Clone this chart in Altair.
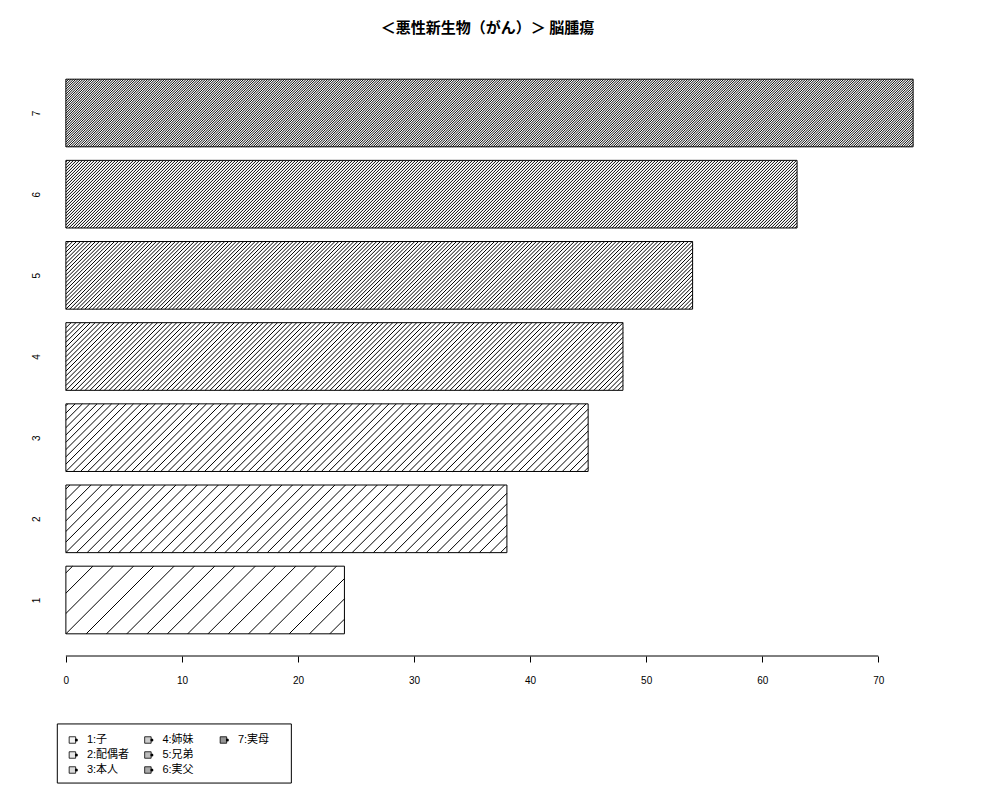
import json
import altair as alt
import numpy as np
import pandas as pd

# ---------------- data ----------------
categories = ["1", "2", "3", "4", "5", "6", "7"]
values = [24, 38, 45, 48, 54, 63, 73]
legend_labels = ["1:子", "2:配偶者", "3:本人", "4:姉妹", "5:兄弟", "6:実父", "7:実母"]
x_ticks = [0, 10, 20, 30, 40, 50, 60, 70]
title_text = "＜悪性新生物（がん）＞ 脳腫瘍"

# ---------------- styles ----------------
hatch_px = [20.3, 10.6, 7.3, 4.8, 3.8, 3.0, 2.4]      # horizontal hatch spacing (px)
legend_grays = ["#f4f4f4", "#e8e8e8", "#dcdcdc", "#cccccc", "#bcbcbc", "#aaaaaa", "#959595"]
W, H = 915, 599
bar_w, bar_space = 1.0, 0.2
ext = 0.04

n = len(values)
bottoms = [bar_space + i * (bar_w + bar_space) for i in range(n)]
tops = [b + bar_w for b in bottoms]
centers = [b + bar_w / 2 for b in bottoms]

xmin_d = -ext * max(values)
xmax_d = max(values) * (1 + ext)
yr = tops[-1] - bottoms[0]
ymin_d = bottoms[0] - ext * yr
ymax_d = tops[-1] + ext * yr
kx = W / (xmax_d - xmin_d)
ky = H / (ymax_d - ymin_d)

bar_df = pd.DataFrame({"cat": categories, "x": [0] * n, "x2": values,
                       "y": bottoms, "y2": tops})

# hatch segments (45 degrees in screen space), clipped to each bar
rows = []
for i in range(n):
    w = values[i] * kx
    h = bar_w * ky
    s = hatch_px[i]
    for k in range(int(np.ceil(-h / s)), int(np.floor(w / s)) + 1):
        c = k * s
        xa, va = (c, 0.0) if c >= 0 else (0.0, -c)
        xb, vb = (c + h, h) if c + h <= w else (w, w - c)
        if xb - xa < 0.3:
            continue
        rows.append({"x": xa / kx, "x2": xb / kx,
                     "y": bottoms[i] + va / ky, "y2": bottoms[i] + vb / ky})
hatch_df = pd.DataFrame(rows)

axis_df = pd.DataFrame({"x": [min(x_ticks)], "x2": [max(x_ticks)], "y": [ymin_d]})

x_scale = alt.Scale(domain=[xmin_d, xmax_d], nice=False, zero=False)
y_scale = alt.Scale(domain=[ymin_d, ymax_d], nice=False, zero=False)

x_axis = alt.Axis(values=x_ticks, domain=False, ticks=True, tickSize=6, tickColor="black",
                  tickWidth=1, labelFont="Liberation Sans", labelFontSize=10,
                  labelColor="black", labelPadding=13, grid=False, title=None,
                  labelFlush=False, labelOverlap=False, format="d")
label_expr = (f"{json.dumps(categories)}[round((datum.value - {centers[0]}) / "
              f"{bar_w + bar_space})]")
y_axis = alt.Axis(values=centers, labelExpr=label_expr, domain=False, ticks=False,
                  tickSize=0, labelAngle=270, labelAlign="center",
                  labelBaseline="alphabetic", labelPadding=0, offset=-7, grid=False,
                  title=None, labelFontSize=10, labelFont="Liberation Sans",
                  labelColor="black", labelOverlap=False)

X = alt.X("x:Q", scale=x_scale, axis=x_axis)
Y = alt.Y("y:Q", scale=y_scale, axis=y_axis)

hatch = alt.Chart(hatch_df).mark_rule(color="black", strokeWidth=1).encode(
    x=X, x2="x2:Q", y=Y, y2="y2:Q")
bars = alt.Chart(bar_df).mark_rect(fill="white", fillOpacity=0, stroke="black",
                                   strokeWidth=1).encode(x=X, x2="x2:Q", y=Y, y2="y2:Q")
axis_line = alt.Chart(axis_df).mark_rule(color="black", strokeWidth=1).encode(
    x=X, x2="x2:Q", y=Y)
main = alt.layer(hatch, bars, axis_line)

# ---------------- manual legend (column-major, 3 rows) ----------------
leg_df = pd.DataFrame({
    "lab": legend_labels,
    "lx": [i // 3 for i in range(n)],
    "ly": [i % 3 for i in range(n)],
    "g": legend_grays,
})
box_df = pd.DataFrame({"lx": [-0.2], "lx2": [2.9], "ly": [-1.07], "ly2": [2.87]})
LX = alt.X("lx:Q", scale=alt.Scale(domain=[0, 1], range=[40.4, 115.9], nice=False,
                                   zero=False), axis=None)
LY = alt.Y("ly:Q", scale=alt.Scale(domain=[0, 1], range=[683, 698], nice=False,
                                   zero=False), axis=None)

box = alt.Chart(box_df).mark_rect(fill="white", fillOpacity=0, stroke="black",
                                  strokeWidth=1).encode(x=LX, x2="lx2:Q", y=LY, y2="ly2:Q")
squares = alt.Chart(leg_df).mark_square(size=42, stroke="black", strokeWidth=0.8,
                                        filled=True, opacity=1).encode(
    x=LX, y=LY, fill=alt.Fill("g:N", scale=None))
dots = alt.Chart(leg_df).mark_circle(size=9, color="black", opacity=1).encode(
    x=LX, y=LY, xOffset=alt.value(4))
texts = alt.Chart(leg_df).mark_text(align="left", baseline="middle", dx=14.5,
                                    font="Liberation Sans, Noto Sans CJK JP",
                                    fontSize=11, color="black").encode(
    x=LX, y=LY, text="lab:N")
legend = alt.layer(box, squares, dots, texts)

chart = alt.layer(main, legend).resolve_scale(x="independent", y="independent").properties(
    width=W, height=H,
    title=alt.Title(title_text, font="Noto Sans CJK JP", fontSize=15, fontWeight="bold",
                    anchor="middle", offset=21, color="black", dx=-2),
    autosize=alt.AutoSizeParams(type="none"),
    padding={"left": 24, "top": 49, "right": 30, "bottom": 130},
    background="white",
).configure_view(stroke=None)

chart.save("out.html", embed_options={"renderer": "svg", "actions": False})
